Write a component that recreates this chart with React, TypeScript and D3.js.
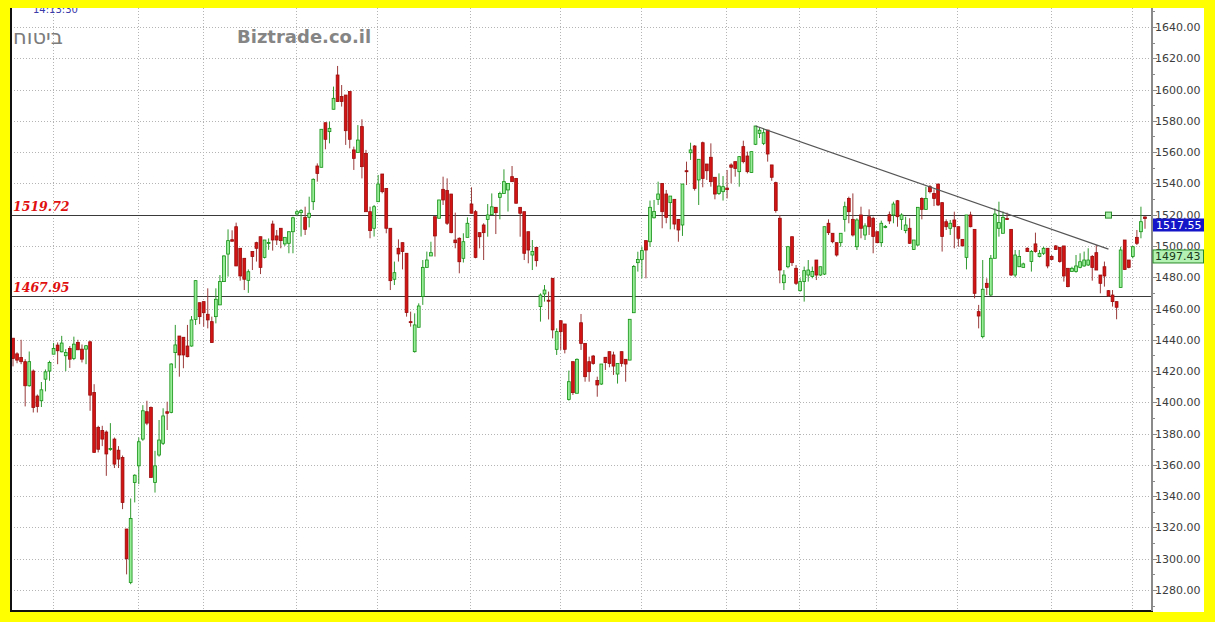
import React from 'react';
import * as d3 from 'd3';

// Daily OHLC series (oldest first)
const openPrices = [
  1441, 1431, 1428.7, 1426, 1410.6, 1420, 1404, 1401, 1414.8, 1420,
  1430.8, 1436.6, 1432.3, 1429.8, 1434.5, 1428, 1438.3, 1434, 1434, 1438.7,
  1406.3, 1384, 1382, 1381, 1370, 1376.5, 1369.4, 1364.7, 1319, 1284.8,
  1348.7, 1359.4, 1376.5, 1394, 1396.7, 1348.7, 1366.3, 1373.8, 1394, 1393.6,
  1431.8, 1442.4, 1441.6, 1436, 1436, 1453, 1463.7, 1464.4, 1456.3, 1451.6,
  1454.8, 1462.3, 1477.2, 1494.8, 1504, 1512.3, 1498.5, 1492.1, 1478, 1496.4,
  1502.1, 1505.9, 1492.7, 1501.8, 1514, 1506.4, 1511.3, 1501.3, 1501.7, 1509.1,
  1520.4, 1521.3, 1518.3, 1518.3, 1528.3, 1551.1, 1550.3, 1578.8, 1573.1, 1587.4,
  1609.3, 1595.5, 1596.5, 1598.7, 1561.4, 1559.7, 1576.3, 1559.2, 1521.9, 1511.3,
  1528.3, 1546, 1536.8, 1511.3, 1478.7, 1498.5, 1502.1, 1495.3, 1451.6, 1432.4,
  1448, 1467.6, 1486.3, 1493.6, 1518.7, 1517.7, 1536.2, 1535.4, 1533.2, 1503.8,
  1504.9, 1492.1, 1505.5, 1526.8, 1521.9, 1508.5, 1513.4, 1517, 1520, 1524.7,
  1531.1, 1533.6, 1535.8, 1544.3, 1543.2, 1524.7, 1521.9, 1509.1, 1494.2, 1499.1,
  1461.2, 1469.3, 1465.3, 1479.3, 1433.9, 1452.2, 1450.1, 1401.9, 1426, 1405.8,
  1450.9, 1437.7, 1426, 1429.6, 1413.9, 1411.7, 1428.8, 1432.4, 1430.3, 1418.1,
  1432.4, 1427.5, 1427, 1457.3, 1489.3, 1491.4, 1503.4, 1502.7, 1518, 1529.8,
  1540, 1533.2, 1527.7, 1529.8, 1517, 1513.4, 1548.1, 1559.6, 1563.9, 1542.2,
  1566, 1552.4, 1556.7, 1543.9, 1533.6, 1534.7, 1537, 1551.8, 1553.9, 1547.5,
  1563.5, 1557.5, 1546.9, 1565, 1572, 1565.6, 1574.1, 1551.8, 1540.5, 1517.7,
  1476.5, 1486.7, 1505.9, 1485.7, 1471.4, 1477.2, 1481.4, 1480.4, 1491, 1481.4,
  1482, 1514.5, 1508.1, 1502.1, 1502.1, 1517, 1530.4, 1517, 1499.5, 1519.8,
  1507, 1518.7, 1517.7, 1509.1, 1502.1, 1512.3, 1520, 1519.8, 1528.9, 1517,
  1509.8, 1511.3, 1497.8, 1500.6, 1530.4, 1523.4, 1537.9, 1533.6, 1539.6, 1527.7,
  1515.5, 1511.3, 1516.6, 1512.3, 1504.2, 1492.7, 1519.8, 1510.6, 1458, 1442,
  1476.1, 1468.6, 1492.1, 1511.3, 1508.1, 1517.5, 1510.6, 1481.4, 1486.7, 1486.3,
  1498.5, 1490, 1501.3, 1493.2, 1495.3, 1498.5, 1493.2, 1500, 1499.1, 1500,
  1485.7, 1483.6, 1483.6, 1486.3, 1487.2, 1487.8, 1493.2, 1495.7, 1481.4, 1486.7,
  1471.4, 1468.6, 1464.4, 1473.5, 1503.8, 1491, 1493.2, 1505.5, 1509.1, 1518.5,
];

const highPrices = [
  1441, 1432, 1440, 1427.6, 1432.5, 1421, 1405, 1413, 1421, 1426.6,
  1438, 1438.3, 1442.5, 1434, 1436, 1442, 1440, 1437, 1436.6, 1439.4,
  1411.6, 1385, 1385, 1382, 1386.7, 1377.5, 1372, 1366, 1319, 1338.5,
  1354, 1377.5, 1398.2, 1401, 1397.4, 1369, 1388.7, 1396.2, 1400.4, 1425,
  1449.5, 1442.4, 1441.6, 1449.5, 1455.2, 1478, 1463.7, 1464.4, 1472.9, 1454.8,
  1472.9, 1481.4, 1494, 1510.6, 1510, 1514.9, 1498.5, 1492.1, 1485, 1496.4,
  1502.7, 1505.9, 1503.8, 1504.8, 1516.2, 1510.2, 1511.3, 1505.5, 1509.1, 1518.7,
  1523, 1523.5, 1525.1, 1531.5, 1543.2, 1552.8, 1574.6, 1578.8, 1579.5, 1601.9,
  1615.1, 1602.9, 1596.5, 1598.7, 1563.5, 1577.3, 1581, 1561.4, 1525.1, 1526.2,
  1545.4, 1546, 1536.8, 1511.3, 1490, 1504.2, 1502.1, 1495.3, 1458, 1456.9,
  1463.3, 1491, 1496.4, 1502.7, 1518.7, 1529.4, 1544.3, 1543.2, 1533.2, 1521.3,
  1505.5, 1508.1, 1518.3, 1537.5, 1523, 1508.5, 1514.5, 1526.8, 1533.6, 1524.7,
  1534.7, 1549, 1540, 1551.1, 1543.2, 1524.7, 1521.9, 1509.1, 1503.8, 1499.1,
  1469.7, 1475, 1470.8, 1479.3, 1447.3, 1452.2, 1450.1, 1420.3, 1426, 1428.1,
  1456.5, 1437.7, 1429.2, 1430.3, 1416.4, 1424.5, 1428.8, 1432.4, 1432.4, 1424.9,
  1432.4, 1427.5, 1453.1, 1487.8, 1496.3, 1499.5, 1503.4, 1529, 1529.4, 1541.1,
  1540, 1535.8, 1531.9, 1529.8, 1517, 1539.6, 1553.9, 1566, 1564.5, 1555.4,
  1566.7, 1552.4, 1565.6, 1543.9, 1546.4, 1544.7, 1548.6, 1552.8, 1553.9, 1557.5,
  1567.3, 1560.3, 1560.3, 1576.7, 1576, 1575.2, 1574.1, 1551.8, 1541.1, 1519.8,
  1484.6, 1500, 1505.9, 1487.8, 1479.3, 1486.8, 1491, 1486.8, 1491, 1486.7,
  1512.3, 1517, 1508.1, 1502.1, 1508.1, 1528.3, 1531.5, 1533.6, 1517.7, 1525.1,
  1514.5, 1523.4, 1518.7, 1509.1, 1516.2, 1513.4, 1522, 1528.3, 1529.4, 1520.9,
  1518.7, 1517.7, 1503.8, 1524.7, 1531.1, 1537.9, 1539, 1536.2, 1539.6, 1527.7,
  1517, 1516.6, 1521.9, 1512.3, 1504.2, 1519.8, 1521.9, 1510.6, 1462.3, 1491,
  1479.3, 1494.2, 1524, 1528.3, 1522, 1521.3, 1510.6, 1497.4, 1497.4, 1489.3,
  1499.1, 1497.4, 1508.5, 1497.4, 1499.5, 1498.5, 1494.2, 1500.6, 1499.1, 1500,
  1485.7, 1486.7, 1494.2, 1495.3, 1496.4, 1498.5, 1494.2, 1500.6, 1481.4, 1490,
  1471.8, 1471.8, 1464.4, 1499.5, 1503.8, 1491, 1500, 1510.2, 1525.1, 1519,
];

const lowPrices = [
  1423, 1425, 1424.4, 1397.4, 1410, 1393.5, 1393.5, 1397, 1407, 1413.8,
  1430.8, 1424.4, 1432, 1420, 1422, 1427, 1433.6, 1425.5, 1424.4, 1394.6,
  1368, 1368, 1372, 1353, 1369, 1358, 1358, 1331.7, 1290, 1283.7,
  1336, 1347.7, 1375.4, 1385.4, 1352, 1342.3, 1365.3, 1372.7, 1382.3, 1393,
  1421.8, 1416.4, 1421.8, 1428.8, 1435.6, 1449.5, 1450, 1448.4, 1447.3, 1438.2,
  1450.5, 1462.3, 1477.2, 1480.4, 1503, 1487.2, 1477.8, 1471.8, 1470, 1484.6,
  1490, 1482, 1492, 1497.5, 1497, 1500.6, 1498.5, 1500, 1495.3, 1495.3,
  1519, 1506, 1507, 1511.9, 1523, 1541.1, 1550.3, 1561.8, 1565.6, 1587.4,
  1592.3, 1589.1, 1564.6, 1562.4, 1548.6, 1559.7, 1543.2, 1521.9, 1504.9, 1506,
  1528.3, 1533.6, 1508.1, 1471.8, 1475, 1490, 1485, 1454.8, 1448.4, 1431.8,
  1448, 1462.3, 1486.3, 1493.6, 1493.2, 1517.7, 1526.2, 1513.4, 1508.1, 1498.5,
  1482.5, 1489.4, 1505.5, 1520.9, 1492.1, 1498.5, 1491, 1505.9, 1519.8, 1507.6,
  1517, 1533.6, 1522, 1541.1, 1527.3, 1505.9, 1491, 1488.9, 1484.6, 1486.8,
  1451.6, 1464.4, 1453, 1440.9, 1430.3, 1433.5, 1431.3, 1401.1, 1404.7, 1405.8,
  1433.5, 1413.2, 1413.2, 1424, 1403.6, 1411.1, 1420.7, 1422.4, 1417.5, 1412,
  1422.8, 1413.2, 1427, 1457.3, 1483.6, 1479.3, 1479.3, 1499.5, 1517.6, 1526.2,
  1511.3, 1514.5, 1510.6, 1510.6, 1502.7, 1506.4, 1539, 1555, 1535.4, 1526.2,
  1537.5, 1542.2, 1537.9, 1529.8, 1532.6, 1529, 1530.4, 1540, 1544.3, 1537.9,
  1552.8, 1546.4, 1546.9, 1564.5, 1569, 1564.5, 1553.9, 1541.7, 1521.3, 1476.1,
  1471.8, 1485.7, 1487.2, 1475, 1470.8, 1464.4, 1477.2, 1479.3, 1478.2, 1480.8,
  1481.4, 1507, 1501.7, 1493.2, 1499.5, 1509.1, 1514.5, 1506, 1497.4, 1504.9,
  1503.8, 1507, 1495.3, 1501.7, 1499.5, 1511.3, 1514, 1514.5, 1512.3, 1510.2,
  1508.1, 1501.3, 1497.4, 1500, 1517, 1523, 1533.6, 1525.5, 1525.5, 1496.4,
  1510.2, 1507, 1498.5, 1499.5, 1500, 1485, 1511.9, 1466.5, 1447.3, 1440.9,
  1468.6, 1468, 1492.1, 1505.9, 1508.1, 1516.6, 1480.8, 1479.9, 1486.5, 1486.3,
  1496.4, 1483.6, 1495.7, 1492.7, 1494.2, 1485.7, 1491, 1497.4, 1489.3, 1477.2,
  1473.5, 1483.6, 1482.9, 1485.7, 1486.7, 1487.2, 1477.8, 1484.6, 1469.7, 1474,
  1467.6, 1461.2, 1453.1, 1473.5, 1484.6, 1485.7, 1492.1, 1500.6, 1504.9, 1511,
];

const closePrices = [
  1428, 1427, 1426, 1410.6, 1426, 1396.7, 1397.4, 1408, 1419.5, 1425.5,
  1434.5, 1433, 1437.9, 1431.9, 1427.6, 1437.2, 1433.6, 1427.6, 1436.2, 1404.6,
  1368, 1370, 1376.5, 1367, 1370.5, 1360.5, 1363.7, 1336, 1300, 1325.7,
  1353.4, 1374.8, 1394.6, 1386.7, 1352, 1359.4, 1375.9, 1391.3, 1393, 1424.5,
  1436.7, 1430.3, 1430.3, 1429.2, 1452.7, 1477.8, 1454.8, 1457.3, 1452.7, 1438.2,
  1465.9, 1477.2, 1493.6, 1503.4, 1503, 1487.2, 1480.8, 1478.7, 1483.5, 1493.2,
  1498.5, 1486.3, 1503.8, 1502.2, 1503.8, 1503.8, 1503.4, 1505.5, 1509.1, 1518,
  1521.9, 1522.6, 1510.6, 1520.9, 1542.6, 1546.4, 1574.6, 1568.2, 1575.2, 1594.4,
  1592.3, 1592.3, 1573.7, 1568.2, 1556, 1567.7, 1550.7, 1521.9, 1509.8, 1525.1,
  1539.6, 1534.7, 1511.3, 1477.8, 1482.9, 1494.9, 1496.4, 1457.4, 1451, 1449.5,
  1461.6, 1486.3, 1491, 1495.7, 1506.4, 1529.4, 1529.4, 1514.5, 1508.5, 1502.1,
  1489.9, 1502.7, 1514.5, 1520.9, 1492.7, 1505.9, 1508.5, 1519.8, 1525, 1521.3,
  1533.6, 1541.1, 1540, 1541.1, 1527.3, 1520.9, 1495.3, 1497.4, 1496.4, 1490.6,
  1468.6, 1471.8, 1465, 1446.3, 1445.2, 1445.2, 1433.9, 1413.2, 1406.2, 1427.5,
  1437.7, 1416.4, 1419.6, 1424.9, 1411.1, 1424.5, 1425.4, 1424.9, 1423.2, 1424.9,
  1424.9, 1424.5, 1453.1, 1486.8, 1491.4, 1497, 1497.4, 1524.7, 1522, 1533.2,
  1521.9, 1518.3, 1531.9, 1514, 1510.2, 1539.6, 1547.5, 1561.4, 1536.8, 1555.4,
  1543.2, 1548.1, 1541.1, 1533.2, 1538.3, 1537.9, 1536, 1550.3, 1549.6, 1557.1,
  1553.9, 1547.5, 1560.3, 1576.7, 1574, 1572.4, 1558.8, 1543.9, 1522.6, 1484.6,
  1481.4, 1499.5, 1489.3, 1476.1, 1477.2, 1484.2, 1484.6, 1483.6, 1481.4, 1486.7,
  1512.3, 1508.5, 1502.7, 1494.2, 1508.1, 1525.1, 1521.9, 1507, 1516.6, 1511.3,
  1512.8, 1512.3, 1506, 1502.1, 1514.5, 1512.5, 1516, 1526.8, 1518.7, 1519.8,
  1513.4, 1501.7, 1503.8, 1524.7, 1523.4, 1530.4, 1534.7, 1530.4, 1526.2, 1506,
  1512.3, 1514.5, 1512.3, 1504.9, 1500, 1519.8, 1512.3, 1469.7, 1455.2, 1472.3,
  1473.5, 1492.1, 1520.4, 1514.9, 1518.3, 1517, 1481.4, 1494.2, 1493.2, 1488.5,
  1496.4, 1496.4, 1496.4, 1495.3, 1498.5, 1487.2, 1491.4, 1497.8, 1490, 1480.8,
  1474, 1485.7, 1487.2, 1489.9, 1491, 1491, 1486.3, 1484.6, 1476.1, 1480.8,
  1468, 1464.4, 1460.8, 1497.4, 1485, 1486.3, 1499.5, 1501.7, 1515.5, 1517.55,
];

// Price axis ticks
const priceTicks = d3.range(1280, 1641, 20);
const minorTicks = d3.range(1270, 1651, 10).filter((v) => v % 20 !== 0);

// Session index of the first trading day of each month
const monthStarts = [10, 31, 47, 70, 90, 113, 135, 155, 176, 194, 213, 233, 256, 276];

// Horizontal support / resistance levels
const levelValues = [1519.72, 1467.95];

// Falling trendline: [session index, price]
const trendStart: [number, number] = [183, 1576.7];
const trendEnd: [number, number] = [270, 1498.0];

// Level handle marker
const levelMarker: [number, number] = [270, 1519.72];

const lastPrice = 1517.55;
const refPrice = 1497.43;

const W = 1215;
const H = 622;
const plotLeft = 11;
const plotTop = 8;
const plotRight = 1152;
const plotBottom = 611;
const axisRight = 1204;

const UP_FILL = '#98ee98';
const UP_STROKE = '#139013';
const DOWN_FILL = '#d31414';
const DOWN_STROKE = '#9a0a0a';
const UP_WICK = '#2f9a2f';
const DOWN_WICK = '#9a3a3a';

export default function App() {
  const n = closePrices.length;
  const x = d3.scaleLinear().domain([0, n - 1]).range([13, 1145]);
  const y = d3.scaleLinear().domain([1280, 1640]).range([590, 27]);
  const fmt = d3.format('.2f');

  const trend = d3
    .line<[number, number]>()
    .x((d) => x(d[0]))
    .y((d) => y(d[1]))([trendStart, trendEnd]);

  const bodyW = 2.8;

  return (
    <div
      style={{
        position: 'fixed',
        left: 0,
        top: 0,
        width: W,
        height: H,
        background: '#ffff00',
      }}
    >
      <svg width={W} height={H} style={{ display: 'block' }} fontFamily="'DejaVu Sans', Verdana, sans-serif">
        <defs>
          <clipPath id="plot-clip">
            <rect x={plotLeft} y={plotTop} width={plotRight - plotLeft} height={plotBottom - plotTop} />
          </clipPath>
        </defs>
        <rect x={0} y={0} width={W} height={H} fill="#ffff00" />
        <rect x={plotLeft - 1} y={plotTop} width={axisRight - plotLeft + 1} height={plotBottom - plotTop + 1} fill="#ffffff" />

        <g clipPath="url(#plot-clip)">
          {/* horizontal grid */}
          {priceTicks.map((v) => (
            <line
              key={`hg${v}`}
              x1={plotLeft}
              x2={plotRight}
              y1={Math.round(y(v)) + 0.5}
              y2={Math.round(y(v)) + 0.5}
              stroke="#b4b4b4"
              strokeWidth={1}
              strokeDasharray="1,2"
            />
          ))}
          {/* vertical month grid */}
          {monthStarts.map((i) => (
            <line
              key={`vg${i}`}
              x1={Math.round(x(i)) - 0.5}
              x2={Math.round(x(i)) - 0.5}
              y1={plotTop}
              y2={plotBottom}
              stroke="#b4b4b4"
              strokeWidth={1}
              strokeDasharray="1,2"
            />
          ))}

          {/* timestamp */}
          <text x={33} y={13} fontSize={10} fill="#3a3aa8">14:13:30</text>

          {/* titles */}
          <text x={13} y={44} fontSize={21} fill="#7c7c7c">ביטוח</text>
          <text x={237} y={43} fontSize={18} fontWeight="bold" fill="#858585">Biztrade.co.il</text>

          {/* level lines */}
          {levelValues.map((v) => (
            <g key={`lv${v}`}>
              <line
                x1={plotLeft}
                x2={plotRight}
                y1={Math.round(y(v)) + 0.5}
                y2={Math.round(y(v)) + 0.5}
                stroke="#3a3a3a"
                strokeWidth={1.2}
              />
              <text
                x={13}
                y={y(v) - 4}
                fontSize={12.5}
                fontStyle="italic"
                fontWeight="bold"
                fontFamily="'DejaVu Serif', serif"
                fill="#e01010"
              >
                {fmt(v)}
              </text>
            </g>
          ))}

          {/* candles */}
          {closePrices.map((c, i) => {
            const o = openPrices[i];
            const hi = highPrices[i];
            const lo = lowPrices[i];
            const up = c >= o;
            const cx = x(i);
            const top = y(Math.max(o, c));
            const bot = y(Math.min(o, c));
            return (
              <g key={`c${i}`}>
                <line
                  x1={cx}
                  x2={cx}
                  y1={y(hi)}
                  y2={y(lo)}
                  stroke={up ? UP_WICK : DOWN_WICK}
                  strokeWidth={1}
                />
                <rect
                  x={cx - bodyW / 2}
                  y={top}
                  width={bodyW}
                  height={Math.max(1, bot - top)}
                  fill={up ? UP_FILL : DOWN_FILL}
                  stroke={up ? UP_STROKE : DOWN_STROKE}
                  strokeWidth={0.8}
                />
              </g>
            );
          })}

          {/* trendline */}
          <path d={trend ?? ''} stroke="#555555" strokeWidth={1.2} fill="none" />

          {/* level handle */}
          <rect
            x={x(levelMarker[0]) - 3}
            y={y(levelMarker[1]) - 3}
            width={6}
            height={6}
            fill="#a8eea8"
            stroke="#2a8a2a"
            strokeWidth={1}
          />
        </g>

        {/* plot frame */}
        <line x1={plotLeft} x2={plotLeft} y1={plotTop} y2={plotBottom + 1} stroke="#111" strokeWidth={2} />
        <line x1={plotLeft - 1} x2={plotRight + 1} y1={plotBottom} y2={plotBottom} stroke="#111" strokeWidth={2} />
        <line x1={plotRight} x2={plotRight} y1={plotTop} y2={plotBottom} stroke="#8a8a8a" strokeWidth={2} />

        {/* price axis */}
        {minorTicks.map((v) => (
          <line key={`mt${v}`} x1={plotRight} x2={plotRight + 3} y1={Math.round(y(v)) + 0.5} y2={Math.round(y(v)) + 0.5} stroke="#8a8a8a" />
        ))}
        {priceTicks.map((v) => (
          <g key={`t${v}`}>
            <line x1={plotRight} x2={plotRight + 5} y1={Math.round(y(v)) + 0.5} y2={Math.round(y(v)) + 0.5} stroke="#8a8a8a" />
            <text x={plotRight + 3} y={y(v) + 4} fontSize={11} fill="#3c3c3c">
              {fmt(v)}
            </text>
          </g>
        ))}

        {/* last price tag */}
        <rect x={plotRight + 1} y={y(lastPrice)} width={axisRight - plotRight - 1} height={13} fill="#1414c8" />
        <text x={plotRight + 4} y={y(lastPrice) + 10.5} fontSize={11} fill="#ffffff">
          {fmt(lastPrice)}
        </text>

        {/* reference price tag */}
        <rect x={plotRight + 1} y={y(refPrice)} width={axisRight - plotRight - 1.5} height={13} fill="#b4f2b4" stroke="#2a8a2a" strokeWidth={1} />
        <text x={plotRight + 3} y={y(refPrice) + 10.5} fontSize={11} fill="#1a3a1a">
          {fmt(refPrice)}
        </text>
      </svg>
    </div>
  );
}
